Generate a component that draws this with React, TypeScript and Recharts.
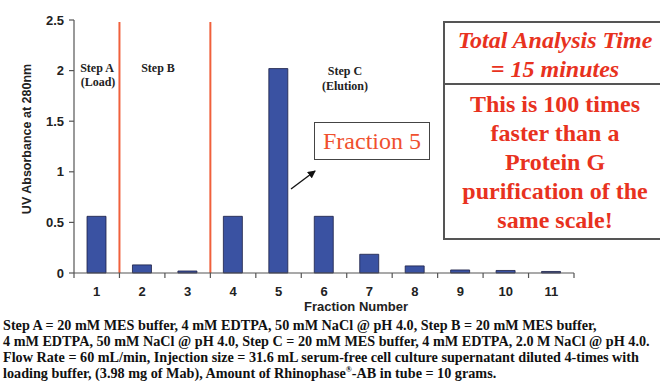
import React from 'react';
import { BarChart, Bar, XAxis, YAxis, ReferenceLine } from 'recharts';

const FRACTIONS = [1, 2, 3, 4, 5, 6, 7, 8, 9, 10, 11];
const ABSORBANCE = [0.56, 0.08, 0.02, 0.56, 2.02, 0.56, 0.185, 0.07, 0.03, 0.025, 0.015];
const Y_TICKS = [0, 0.5, 1, 1.5, 2, 2.5];
// boundaries between fractions carry the tick marks, integers carry the labels
const X_TICKS = [0.5, 1, 1.5, 2, 2.5, 3, 3.5, 4, 4.5, 5, 5.5, 6, 6.5, 7, 7.5, 8, 8.5, 9, 9.5, 10, 10.5, 11, 11.5];
const STEP_BOUNDARIES = [1.5, 3.5];

const FOOTNOTE = [
  'Step A = 20 mM MES buffer, 4 mM EDTPA, 50 mM NaCl @ pH 4.0, Step B = 20 mM MES buffer,',
  '4 mM EDTPA, 50 mM NaCl @ pH 4.0, Step C = 20 mM MES buffer, 4 mM EDTPA, 2.0 M NaCl @ pH 4.0.',
  'Flow Rate = 60 mL/min, Injection size  = 31.6 mL serum-free cell culture supernatant diluted 4-times with',
];

const data = FRACTIONS.map((f, i) => ({ fraction: f, value: ABSORBANCE[i] }));

const SANS = '"Liberation Sans", Arial, sans-serif';
const SERIF = '"Liberation Serif", "Times New Roman", serif';
const RED = '#e8321e';

const FractionTick = (props: any) => {
  const { x, y, payload } = props;
  if (Number.isInteger(payload.value)) {
    return (
      <text x={x} y={y + 20} textAnchor="middle" dominantBaseline="middle"
        fontFamily={SANS} fontWeight="bold" fontSize={13} fill="#222">
        {payload.value}
      </text>
    );
  }
  return <line x1={x} x2={x} y1={y} y2={y + 5} stroke="#555" strokeWidth={1.2} />;
};

export default function App() {
  return (
    <div style={{ position: 'absolute', left: 0, top: 0, width: 660, height: 381, background: '#fff', overflow: 'hidden' }}>
      <BarChart width={660} height={300} data={data} margin={{ top: 20, right: 86, left: 0, bottom: 0 }}>
        <XAxis
          dataKey="fraction"
          type="number"
          domain={[0.5, 11.5]}
          ticks={X_TICKS}
          interval={0}
          height={27}
          tickSize={0}
          tickMargin={0}
          tickLine={false}
          tick={<FractionTick />}
          axisLine={{ stroke: '#555', strokeWidth: 1.2 }}
        />
        <YAxis
          width={74}
          domain={[0, 2.5]}
          ticks={Y_TICKS}
          tickSize={5}
          tickMargin={5}
          axisLine={{ stroke: '#555', strokeWidth: 1.2 }}
          tickLine={{ stroke: '#555', strokeWidth: 1.2 }}
          tick={{ fontFamily: SANS, fontWeight: 'bold', fontSize: 13, fill: '#222' }}
        />
        {STEP_BOUNDARIES.map((b) => (
          <ReferenceLine key={b} segment={[{ x: b, y: 0 }, { x: b, y: 2.48 }]} stroke="#f0603c" strokeWidth={2} />
        ))}
        <Bar dataKey="value" barSize={19} fill="#3a52a2" stroke="#1c1f45" strokeWidth={0.8} isAnimationActive={false} />
      </BarChart>

      <svg width={660} height={381} style={{ position: 'absolute', left: 0, top: 0, pointerEvents: 'none' }}>
        <defs>
          <marker id="arrowHead" markerWidth="8" markerHeight="8" refX="7" refY="4" orient="auto" markerUnits="userSpaceOnUse">
            <path d="M0,0 L8,4 L0,8 Z" fill="#111" />
          </marker>
        </defs>
        <text transform="translate(28,139) rotate(-90)" textAnchor="middle" dominantBaseline="middle"
          fontFamily={SANS} fontWeight="bold" fontSize={12.5} fill="#222">UV Absorbance at 280nm</text>
        <text x={356} y={308} textAnchor="middle" dominantBaseline="middle"
          fontFamily={SANS} fontWeight="bold" fontSize={13} fill="#222">Fraction Number</text>
        <g fontFamily={SERIF} fontWeight="bold" fontSize={12} fill="#222" textAnchor="middle" dominantBaseline="middle">
          <text x={97} y={69}>Step A</text>
          <text x={98} y={83}>(Load)</text>
          <text x={158} y={69}>Step B</text>
          <text x={345} y={72}>Step C</text>
          <text x={345} y={87}>(Elution)</text>
        </g>
        <line x1={291} y1={189} x2={315} y2={171} stroke="#111" strokeWidth={1.3} markerEnd="url(#arrowHead)" />
      </svg>

      <div style={{
        position: 'absolute', left: 314, top: 122, width: 116, height: 38, boxSizing: 'border-box',
        border: '1.5px solid #444', display: 'flex', alignItems: 'center', justifyContent: 'center',
        fontFamily: SERIF, fontSize: 24, color: '#f0502e', background: '#fff',
      }}>Fraction 5</div>

      <div style={{
        position: 'absolute', left: 443, top: 21, width: 224, height: 219, boxSizing: 'border-box',
        border: '2px solid #555', fontFamily: SERIF, fontWeight: 'bold', color: RED, textAlign: 'center',
      }}>
        <div style={{ height: 62, borderBottom: '2px solid #555', fontStyle: 'italic', fontSize: 24, lineHeight: '29px', paddingTop: 3, boxSizing: 'border-box', whiteSpace: 'nowrap' }}>
          Total Analysis Time<br />= 15 minutes
        </div>
        <div style={{ fontSize: 24, lineHeight: '29px', paddingTop: 5, whiteSpace: 'nowrap' }}>
          This is 100 times<br />faster than a<br />Protein G<br />purification of the<br />same scale!
        </div>
      </div>

      <div style={{
        position: 'absolute', left: 3, top: 317, fontFamily: SERIF, fontWeight: 'bold', fontSize: 14.2,
        lineHeight: '16px', color: '#111', whiteSpace: 'nowrap',
      }}>
        {FOOTNOTE.map((l) => <div key={l}>{l}</div>)}
        <div>loading buffer, (3.98 mg of Mab), Amount of Rhinophase<sup style={{ fontSize: 8, lineHeight: 0 }}>®</sup>-AB in tube = 10 grams.</div>
      </div>
    </div>
  );
}
